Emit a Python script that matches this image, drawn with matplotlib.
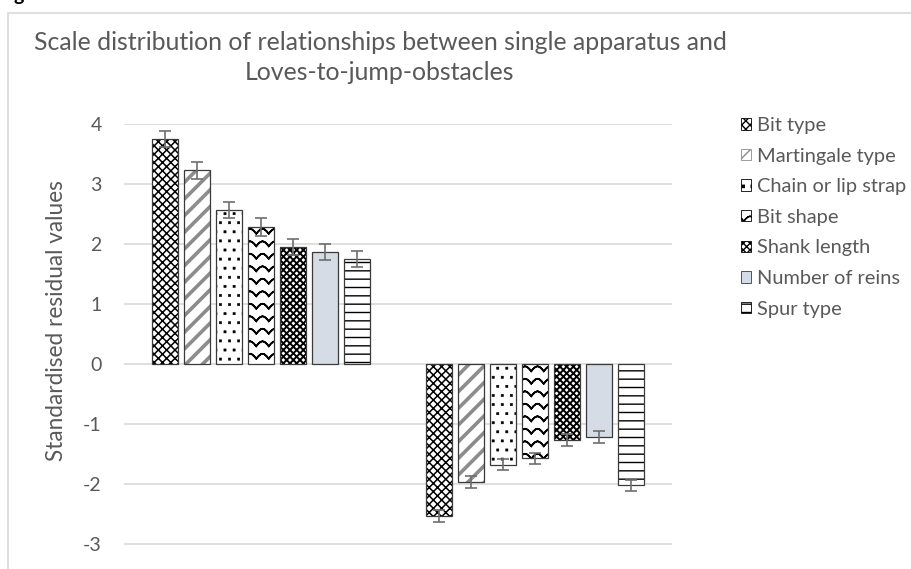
#
# Standardised residuals, single apparatus vs Loves-to-jump-obstacles
#

# Dependencies
import warnings
import numpy as np
import matplotlib
matplotlib.use("Agg")
import matplotlib.pyplot as plt
import matplotlib.hatch as mhatch
from matplotlib.path import Path
from matplotlib.patches import Rectangle

warnings.filterwarnings("ignore")

# Data
categories = ["Group 1", "Group 2"]
series = ["Bit type", "Martingale type", "Chain or lip strap", "Bit shape",
          "Shank length", "Number of reins", "Spur type"]
values_1 = [3.75, 3.23, 2.57, 2.28, 1.95, 1.87, 1.75]
values_2 = [-2.53, -1.97, -1.68, -1.57, -1.27, -1.22, -2.02]
errors_1 = [0.13, 0.14, 0.13, 0.15, 0.13, 0.13, 0.13]
errors_2 = [0.10, 0.10, 0.09, 0.09, 0.10, 0.10, 0.09]
y_ticks = [-3, -2, -1, 0, 1, 2, 3, 4]


# Wave hatch ("z"); each row goes out and back along the same points
# so the hatch fill has no area
class WaveHatch(mhatch.HatchPatternBase):
    def __init__(self, hatch, density):
        self.num_rows = int(round(hatch.count('z') * density * 0.66))
        self.teeth = self.num_rows
        self.n = self.teeth * 6 + 1
        self.num_vertices = self.num_rows * (2 * self.n - 1)

    def set_vertices_and_codes(self, vertices, codes):
        step = 1.0 / self.num_rows
        amp = 0.2 * step
        n = self.n
        xs = np.linspace(0.0, 1.0, n)
        offs = amp * np.abs(np.cos(np.pi * self.teeth * xs)) * 2 - amp
        xs = np.concatenate([xs, xs[-2::-1]])
        offs = np.concatenate([offs, offs[-2::-1]])
        m = 2 * n - 1
        for r in range(self.num_rows):
            y = (r + 0.5) * step
            vertices[r * m:(r + 1) * m, 0] = xs
            vertices[r * m:(r + 1) * m, 1] = y + offs
            codes[r * m] = Path.MOVETO
            codes[r * m + 1:(r + 1) * m] = Path.LINETO


# Sparse staggered square dots ("d")
class DotHatch(mhatch.HatchPatternBase):
    def __init__(self, hatch, density):
        self.num_rows = int(round(hatch.count('d') * density * 0.95))
        self.num_vertices = self.num_rows * self.num_rows * 5

    def set_vertices_and_codes(self, vertices, codes):
        step = 1.0 / self.num_rows
        half = 0.011
        k = 0
        for r in range(self.num_rows):
            y = (r + 0.5) * step
            shift = 0.5 * step if r % 2 else 0.0
            for c in range(self.num_rows):
                cx = (c * step + shift + 0.25 * step) % 1.0
                vertices[k:k + 5] = [[cx - half, y - half], [cx + half, y - half],
                                     [cx + half, y + half], [cx - half, y + half],
                                     [cx - half, y - half]]
                codes[k:k + 5] = [Path.MOVETO, Path.LINETO, Path.LINETO,
                                  Path.LINETO, Path.CLOSEPOLY]
                k += 5


mhatch._hatch_types.append(WaveHatch)
mhatch._hatch_types.append(DotHatch)

# (face colour, hatch, hatch colour, hatch linewidth)
styles = [
    ("white", "xxxx", "black", 1.1),
    ("white", "//", "#8c8c8c", 2.6),
    ("white", "dd", "black", 0.4),
    ("white", "zz", "black", 1.2),
    ("white", "xxxxx", "black", 1.4),
    ("#d6dce5", None, "#d6dce5", 1.0),
    ("white", "--", "black", 1.0),
]

text_grey = "#595959"
plt.rcParams['font.family'] = ['Lato', 'DejaVu Sans']
plt.rcParams['axes.unicode_minus'] = False

fig = plt.figure(figsize=(9.12, 5.69), dpi=100)
ax = fig.add_axes([124 / 912, 1 - 604 / 569, 548 / 912, 480 / 569])

x = np.arange(len(categories))
pitch = 32 / 274
width = 25.6 / 274

handles = []
for i, name in enumerate(series):
    face, hatch, hcol, hlw = styles[i]
    xpos = x + (i - 3) * pitch
    vals = [values_1[i], values_2[i]]
    errs = [errors_1[i], errors_2[i]]
    bars = ax.bar(xpos, vals, width, color=face, edgecolor=hcol, linewidth=0, zorder=2)
    for b in bars:
        if hatch:
            try:
                b.set_hatch(hatch)
            except Exception:
                b.set_hatch("\\/")
            if hasattr(b, "set_hatch_linewidth"):
                b.set_hatch_linewidth(hlw)
    ax.bar(xpos, vals, width, fill=False, edgecolor="#3a3a3a", linewidth=0.9, zorder=3)
    ax.errorbar(xpos, vals, yerr=errs, fmt="none", ecolor="#6e6e6e",
                elinewidth=1.2, capsize=4.3, capthick=1.2, zorder=4)
    proxy = Rectangle((0, 0), 1, 1, facecolor=face, edgecolor=hcol if hatch else "#3a3a3a",
                      linewidth=0.6, hatch=hatch)
    if hatch and hasattr(proxy, "set_hatch_linewidth"):
        proxy.set_hatch_linewidth(min(hlw, 1.0))
    handles.append(proxy)

ax.set_xlim(-0.5, 1.5)
ax.set_ylim(-4, 4)
ax.set_yticks(y_ticks)
ax.set_xticks([])
ax.tick_params(axis="y", length=0, pad=16, labelsize=14, labelcolor=text_grey)
ax.grid(axis="y", color="#d9d9d9", linewidth=1.2, zorder=0)
ax.set_axisbelow(True)
for s in ax.spines.values():
    s.set_visible(False)

ax.set_ylabel("Standardised residual values", fontsize=16.3, color=text_grey, va="center")
ax.yaxis.set_label_coords((57 - 124) / 548, (604 - 321) / 480)

fig.text(380 / 912, 1 - 43 / 569,
         "Scale distribution of relationships between single apparatus and",
         ha="center", va="center", fontsize=17.9, color=text_grey)
fig.text(380 / 912, 1 - 72 / 569, "Loves-to-jump-obstacles",
         ha="center", va="center", fontsize=17.9, color=text_grey)

fig.legend(handles, series, loc="upper left", bbox_to_anchor=(741 / 912, 1 - 117 / 569),
           frameon=False, fontsize=14.4, handlelength=0.5, handleheight=0.5,
           handletextpad=0.3, labelspacing=0.68, borderaxespad=0, borderpad=0,
           labelcolor=text_grey)

# Chart frame and cropped caption letter
fig.patches.append(Rectangle((8 / 912, -0.1), 2, 1.1 - 13 / 569, transform=fig.transFigure,
                             fill=False, edgecolor="#d9d9d9", linewidth=1.2))
fig.text(14 / 912, 1 - 1 / 569, "g", ha="left", va="baseline", fontsize=14,
         fontweight="bold", color="black")

plt.savefig("out.png", dpi=100)
plt.close()
